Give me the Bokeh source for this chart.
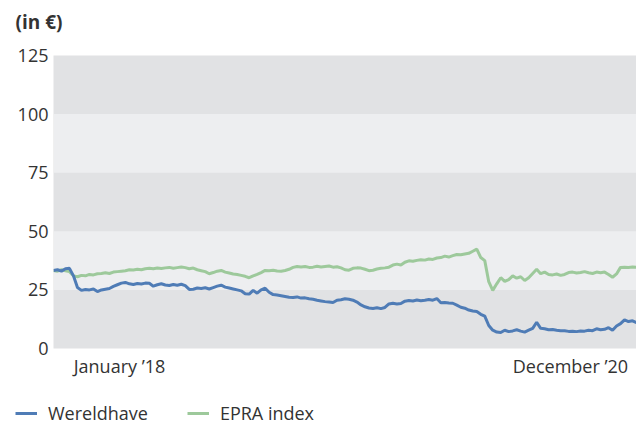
import numpy as np
import pandas as pd
from bokeh.plotting import figure
from bokeh.layouts import column
from bokeh.models import (ColumnDataSource, Range1d, FixedTicker, BoxAnnotation,
                          Legend, LegendItem, Label)
from bokeh.embed import file_html
from bokeh.resources import INLINE

start_date = "2017-07-29"
end_date = "2021-05-06"

wereldhave = [
    33.3, 33.6, 33.0, 34.0, 34.2, 31.0, 26.0, 24.8, 25.2, 25.0, 25.4, 24.3, 25.0, 25.3, 25.6, 26.5,
    27.2, 27.9, 28.2, 27.6, 27.3, 27.7, 27.5, 27.9, 27.8, 26.6, 27.2, 27.6, 27.1, 26.9, 27.3, 27.0,
    27.4, 26.8, 25.2, 25.3, 25.8, 25.6, 25.9, 25.4, 26.0, 26.6, 27.0, 26.2, 25.8, 25.4, 25.0, 24.6,
    23.4, 23.2, 24.8, 23.6, 25.0, 25.7, 24.0, 23.0, 22.8, 22.5, 22.2, 21.9, 21.8, 22.0, 21.5, 21.6,
    21.2, 21.0, 20.6, 20.3, 20.0, 19.8, 19.6, 20.6, 20.8, 21.2, 21.0, 20.6, 19.8, 18.6, 17.8, 17.3,
    17.1, 17.4, 17.0, 17.5, 19.0, 19.3, 19.0, 19.2, 20.2, 20.5, 20.3, 20.7, 20.4, 20.6, 20.9, 20.6,
    21.3, 19.5, 19.6, 19.4, 19.3, 18.5, 17.6, 17.2, 16.4, 16.0, 15.8, 14.6, 13.8, 9.8, 7.8, 7.0,
    6.8, 7.8, 7.2, 7.5, 8.0, 7.4, 7.0, 7.8, 8.6, 11.2, 8.6, 8.4, 8.0, 8.1, 7.8, 7.6,
    7.6, 7.3, 7.4, 7.2, 7.5, 7.4, 7.8, 7.6, 8.4, 8.0, 8.2, 8.9, 7.8, 9.6, 10.6, 12.2,
    11.5, 11.8, 11.0,
]

epra = [
    33.3, 33.0, 33.6, 33.2, 32.8, 31.0, 30.6, 31.2, 31.0, 31.6, 31.4, 31.9, 32.0, 32.3, 32.0, 32.6,
    32.8, 33.0, 33.2, 33.6, 33.5, 33.8, 33.6, 34.0, 34.2, 34.0, 34.3, 34.1, 34.4, 34.6, 34.2, 34.5,
    34.8, 34.5, 34.0, 34.3, 33.6, 33.2, 32.8, 31.9, 32.4, 33.0, 33.3, 32.6, 32.2, 31.8, 31.6, 31.2,
    30.8, 30.2, 31.0, 31.6, 32.4, 33.3, 33.2, 33.4, 33.1, 33.0, 33.3, 33.8, 34.6, 35.0, 34.8, 35.0,
    34.6, 34.7, 35.1, 34.8, 35.0, 35.2, 34.7, 34.9, 34.4, 33.6, 33.4, 34.2, 34.4, 34.3, 33.8, 33.2,
    33.4, 33.9, 34.2, 34.4, 34.7, 35.6, 36.0, 35.6, 36.8, 37.4, 37.2, 37.6, 37.9, 37.7, 38.2, 38.0,
    38.6, 38.8, 39.4, 39.0, 39.6, 40.1, 40.0, 40.3, 40.6, 41.5, 42.4, 38.8, 37.5, 28.5, 24.8, 27.6,
    30.2, 28.6, 29.4, 31.0, 30.0, 30.6, 29.0, 30.2, 32.0, 33.8, 31.9, 32.6, 31.6, 31.4, 31.8, 31.2,
    31.6, 32.4, 32.6, 32.2, 32.4, 32.8, 32.3, 32.0, 32.6, 32.3, 32.6, 31.6, 30.4, 31.8, 34.6, 34.7,
    34.6, 34.8, 34.7,
]

y_ticks = [0, 25, 50, 75, 100, 125]
x_tick_dates = ["2018-01-01", "2020-12-01"]
x_tick_labels = ["January \u201918", "December \u201920"]
series_names = ["Wereldhave", "EPRA index"]
unit_title = "(in \u20ac)"

FONT = "Open Sans"
TEXT = "#333333"
BLUE = "#4f7cb6"
GREEN = "#9dc99b"
FS = "18px"


def blank(height):
    f = figure(width=636, height=height, output_backend="svg", toolbar_location=None,
               x_range=Range1d(0, 636), y_range=Range1d(0, height),
               x_axis_location=None, y_axis_location=None,
               min_border_left=0, min_border_right=0, min_border_top=0, min_border_bottom=0)
    f.frame_align = False
    f.outline_line_color = None
    f.grid.visible = False
    f.background_fill_color = "white"
    return f


# title strip
top = blank(40)
top.add_layout(Label(x=15, y=19, text=unit_title, text_font=FONT, text_font_size="19px",
                     text_font_style="bold", text_color=TEXT, text_align="left",
                     text_baseline="middle"))

src_w = ColumnDataSource(dict(x=pd.date_range(start_date, end_date, periods=len(wereldhave)), y=wereldhave))
src_e = ColumnDataSource(dict(x=pd.date_range(start_date, end_date, periods=len(epra)), y=epra))

p = figure(width=636, height=350, output_backend="svg", toolbar_location=None,
           x_axis_type="datetime",
           x_range=Range1d(pd.Timestamp(start_date), pd.Timestamp(end_date)),
           y_range=Range1d(y_ticks[0], y_ticks[-1]),
           min_border_left=53, min_border_right=0, min_border_top=15, min_border_bottom=42)
p.frame_align = False

p.background_fill_color = "#e1e2e4"
p.outline_line_color = None
p.border_fill_color = "white"
p.grid.visible = False

for lo, hi in [(25, 50), (75, 100)]:
    p.add_layout(BoxAnnotation(bottom=lo, top=hi, fill_color="#edeef0", fill_alpha=1.0,
                               line_color=None, level="underlay"))

p.line("x", "y", source=src_e, line_color=GREEN, line_width=3)
p.line("x", "y", source=src_w, line_color=BLUE, line_width=3)

# y axis
p.yaxis.ticker = FixedTicker(ticks=y_ticks)
p.yaxis.axis_line_color = None
p.yaxis.major_tick_line_color = None
p.yaxis.minor_tick_line_color = None
p.yaxis.major_tick_out = 0
p.yaxis.major_tick_in = 0
p.yaxis.major_label_text_font = FONT
p.yaxis.major_label_text_font_size = FS
p.yaxis.major_label_text_color = TEXT
p.yaxis.major_label_standoff = 5

# x axis
tick_ms = [pd.Timestamp(d).value / 1e6 for d in x_tick_dates]
p.xaxis.ticker = FixedTicker(ticks=tick_ms)
p.xaxis.major_label_overrides = {t: lab for t, lab in zip(tick_ms, x_tick_labels)}
p.xaxis.axis_line_color = None
p.xaxis.major_tick_line_color = None
p.xaxis.minor_tick_line_color = None
p.xaxis.major_tick_out = 0
p.xaxis.major_tick_in = 0
p.xaxis.major_label_text_font = FONT
p.xaxis.major_label_text_font_size = FS
p.xaxis.major_label_text_color = TEXT
p.xaxis.major_label_standoff = 5

# legend strip
lg = figure(width=636, height=35, output_backend="svg", toolbar_location=None,
            x_axis_type="datetime",
            x_range=Range1d(pd.Timestamp(start_date), pd.Timestamp(end_date)),
            y_range=Range1d(500, 600),
            x_axis_location=None, y_axis_location=None,
            min_border_left=0, min_border_right=0, min_border_top=0, min_border_bottom=0)
lg.frame_align = False
lg.outline_line_color = None
lg.grid.visible = False
lg.background_fill_color = "white"
lw = lg.line("x", "y", source=src_w, line_color=BLUE, line_width=3)
le = lg.line("x", "y", source=src_e, line_color=GREEN, line_width=3)

legend = Legend(items=[LegendItem(label=series_names[0], renderers=[lw]),
                       LegendItem(label=series_names[1], renderers=[le])],
                orientation="horizontal", location=(15, 0),
                glyph_width=22, label_standoff=11, spacing=39,
                padding=0, margin=0, border_line_color=None, background_fill_alpha=0,
                label_text_font=FONT, label_text_font_size=FS, label_text_color=TEXT)
lg.add_layout(legend, "center")

layout = column(top, p, lg, spacing=0)
open("out.html", "w").write(file_html(layout, INLINE))
